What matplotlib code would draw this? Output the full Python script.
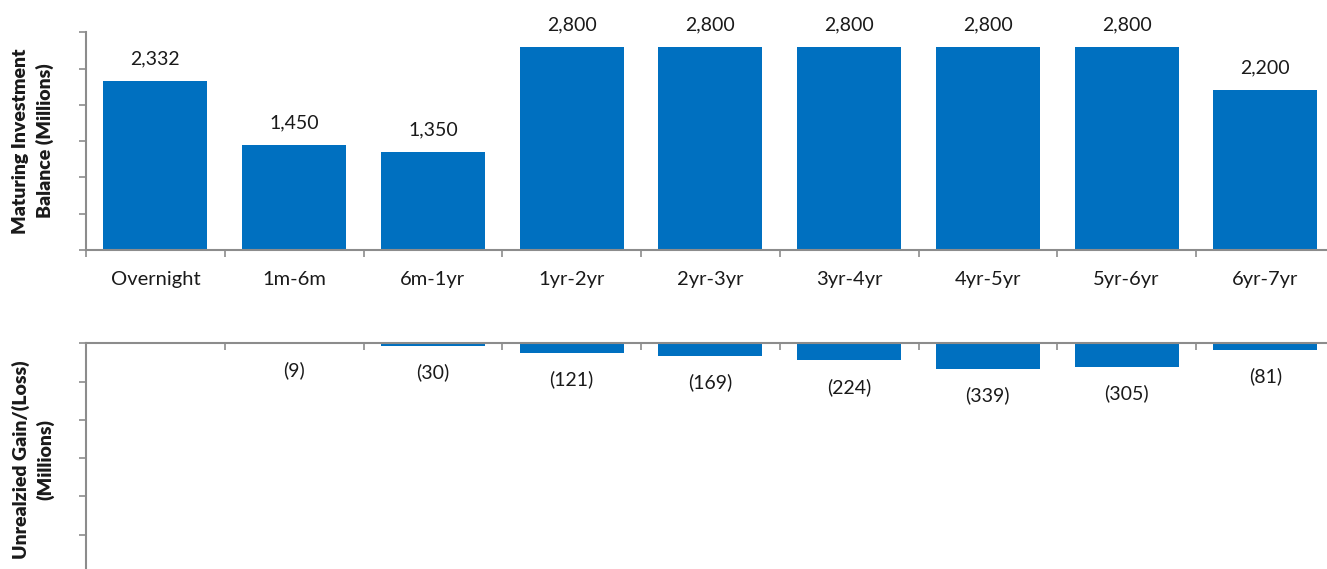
import numpy as np
import matplotlib.pyplot as plt

plt.rcParams['font.family'] = ['Lato', 'DejaVu Sans']

# Data
categories = ['Overnight', '1m-6m', '6m-1yr', '1yr-2yr', '2yr-3yr',
              '3yr-4yr', '4yr-5yr', '5yr-6yr', '6yr-7yr']
balance = [2332, 1450, 1350, 2800, 2800, 2800, 2800, 2800, 2200]
gain_loss = [np.nan, -9, -30, -121, -169, -224, -339, -305, -81]

blue = '#0070C0'
grey = '#8C8C8C'
W, H = 1327, 569
x = np.arange(len(categories))

fig = plt.figure(figsize=(W / 100, H / 100), dpi=100)

# pixel -> figure fraction helpers
left = 86 / W
right = (86 + 9 * 138.75) / W
ax1 = fig.add_axes([left, 1 - 250 / H, right - left, (250 - 32.3) / H])
ax2 = fig.add_axes([left, 1 - 573 / H, right - left, (573 - 343.3) / H])

# Top panel: maturing balances
ax1.bar(x, balance, width=0.75, color=blue)
for xi, v in zip(x, balance):
    ax1.annotate(f'{v:,}', (xi, v), xytext=(0, 16), textcoords='offset points',
                 ha='center', va='center', fontsize=14, color='#1a1a1a')
ax1.set_xlim(-0.5, len(categories) - 0.5)
ax1.set_ylim(0, 3000)
ax1.set_yticks(np.arange(0, 3001, 500))
ax1.set_yticklabels([])
ax1.set_xticks(x)
ax1.set_xticklabels(categories, fontsize=14.5, color='#1a1a1a')
ax1.set_xticks(np.arange(-0.5, len(categories), 1), minor=True)
ax1.tick_params(axis='x', which='major', length=0, pad=15)
ax1.tick_params(axis='x', which='minor', length=5, width=1.2, color=grey)
ax1.tick_params(axis='y', length=5, width=1.2, color=grey)
for s in ['top', 'right']:
    ax1.spines[s].set_visible(False)
for s in ['left', 'bottom']:
    ax1.spines[s].set_color(grey)
    ax1.spines[s].set_linewidth(1.5)

# Bottom panel: unrealized gain / loss
ax2.bar(x, gain_loss, width=0.75, color=blue)
for xi, v in zip(x, gain_loss):
    if np.isnan(v):
        continue
    ax2.annotate(f'({abs(v):,.0f})', (xi, v), xytext=(0, -19),
                 textcoords='offset points', ha='center', va='center',
                 fontsize=14, color='#1a1a1a')
ax2.set_xlim(-0.5, len(categories) - 0.5)
ax2.set_ylim(-3000, 0)
ax2.set_yticks(np.arange(-3000, 1, 500))
ax2.set_yticklabels([])
ax2.xaxis.tick_top()
ax2.set_xticks(np.arange(-0.5, len(categories), 1))
ax2.set_xticklabels([])
ax2.tick_params(axis='x', direction='in', length=5, width=1.2, color=grey)
ax2.tick_params(axis='y', length=5, width=1.2, color=grey)
for s in ['bottom', 'right']:
    ax2.spines[s].set_visible(False)
for s in ['left', 'top']:
    ax2.spines[s].set_color(grey)
    ax2.spines[s].set_linewidth(1.5)

fig.text(33 / W, 1 - 141 / H, 'Maturing Investment\nBalance (Millions)',
         rotation=90, ha='center', va='center', multialignment='center',
         fontsize=14, fontweight='heavy', color='#1a1a1a', linespacing=1.4)
fig.text(33 / W, 1 - 460 / H, 'Unrealzied Gain/(Loss)\n(Millions)',
         rotation=90, ha='center', va='center', multialignment='center',
         fontsize=14, fontweight='heavy', color='#1a1a1a', linespacing=1.4)

fig.savefig('out.png', dpi=100)
